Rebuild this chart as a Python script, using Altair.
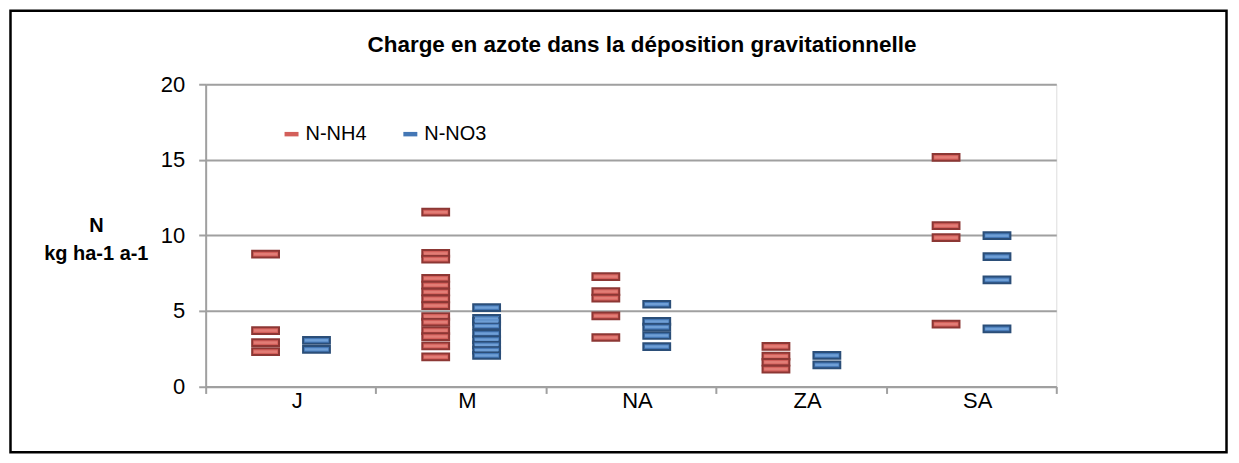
import altair as alt
import pandas as pd

sites = ["J", "M", "NA", "ZA", "SA"]
series = ["N-NH4", "N-NO3"]
title_text = ["Charge en azote dans la déposition gravitationnelle"]

nh4_J = [8.75, 3.7, 2.9, 2.3]
nh4_M = [11.53, 8.8, 8.42, 7.15, 6.7, 6.25, 5.8, 5.35, 4.63, 4.25, 3.7, 3.3, 2.68, 1.95]
nh4_NA = [7.27, 6.28, 5.84, 4.67, 3.24]
nh4_ZA = [2.65, 2.0, 1.6, 1.15]
nh4_SA = [15.16, 10.64, 9.85, 4.12]

no3_J = [3.05, 2.45]
no3_M = [5.22, 4.5, 4.3, 4.0, 3.5, 3.1, 2.75, 2.4, 2.05]
no3_NA = [5.44, 4.3, 3.93, 3.37, 2.64]
no3_ZA = [2.05, 1.43]
no3_SA = [9.98, 8.59, 7.05, 3.81]

nh4 = {"J": nh4_J, "M": nh4_M, "NA": nh4_NA, "ZA": nh4_ZA, "SA": nh4_SA}
no3 = {"J": no3_J, "M": no3_M, "NA": no3_NA, "ZA": no3_ZA, "SA": no3_SA}

rows = []
for s in sites:
    for v in nh4[s]:
        rows.append({"site": s, "series": "N-NH4", "value": v})
    for v in no3[s]:
        rows.append({"site": s, "series": "N-NO3", "value": v})
df = pd.DataFrame(rows)

FONT = "Liberation Sans Narrow, Arial Narrow, Liberation Sans, Arial"
GRID = "#A0A0A0"

BOX = "M-0.96,-0.24H0.96V0.24H-0.96Z"
STRIPE = "M-0.84,-0.09H0.84V0.09H-0.84Z"
LEG = "M-1,-0.32H1V0.32H-1Z"

x_enc = alt.X(
    "site:N",
    sort=sites,
    scale=alt.Scale(domain=sites, paddingInner=0, paddingOuter=0),
    axis=alt.Axis(
        title=None, labelAngle=0, tickBand="extent", grid=False,
        domainColor=GRID, domainWidth=2, tickColor=GRID, tickWidth=2, tickSize=7,
        labelFont=FONT, labelFontSize=22, labelColor="#000000", labelPadding=-3,
        labelOffset=6,
    ),
)
xo_enc = alt.XOffset("series:N", scale=alt.Scale(type="point", domain=series, range=[60, 111], padding=0))
y_enc = alt.Y(
    "value:Q",
    scale=alt.Scale(domain=[0, 20], nice=False),
    axis=alt.Axis(
        values=[0, 5, 10, 15, 20], grid=True, gridColor=GRID, gridWidth=2,
        domainColor=GRID, domainWidth=2, tickColor=GRID, tickWidth=2, tickSize=7,
        labelFont=FONT, labelFontSize=22, labelColor="#000000", labelPadding=14,
        title=["N", "kg ha-1 a-1"], titleAngle=0, titleAlign="center", titleBaseline="middle",
        titleX=-110, titleY=142, titleFont=FONT, titleFontSize=20, titleFontWeight="bold",
        titleColor="#000000", titleLineHeight=28,
    ),
)

base = alt.Chart(df).encode(x=x_enc, xOffset=xo_enc, y=y_enc)

boxes = base.mark_point(shape=BOX, size=784, filled=True, opacity=1, strokeWidth=2, strokeOpacity=1).encode(
    fill=alt.Fill(
        "series:N",
        scale=alt.Scale(domain=series, range=["#D35F5A", "#4477B5"]),
        legend=alt.Legend(
            title=None, orient="none", legendX=76, legendY=40, direction="horizontal",
            symbolType=LEG, symbolSize=196, symbolStrokeWidth=0, symbolOpacity=1,
            labelFont=FONT, labelFontSize=20, labelColor="#000000", labelOffset=4,
            columnPadding=33,
        ),
    ),
    stroke=alt.Stroke("series:N", scale=alt.Scale(domain=series, range=["#8C3734", "#2B4E78"]), legend=None),
)

stripes = base.mark_point(shape=STRIPE, size=784, filled=True, opacity=1, strokeWidth=0).encode(
    fill=alt.Fill("series:N", scale=alt.Scale(domain=series, range=["#E27D76", "#6F9FD6"]), legend=None),
)

frame = alt.Chart(pd.DataFrame({"a": [0]})).mark_rect(fill=None, stroke="#000000", strokeWidth=2.5).encode(
    x=alt.value(-195.5), x2=alt.value(1022.5), y=alt.value(-73.5), y2=alt.value(368.5)
)

title = alt.Chart(pd.DataFrame({"t": title_text})).mark_text(
    font=FONT, fontSize=22.5, fontWeight="bold", color="#000000", align="center", baseline="middle"
).encode(text="t:N", x=alt.value(437), y=alt.value(-39))

chart = (
    alt.layer(frame, title, boxes, stripes)
    .resolve_scale(fill="independent")
    .properties(
        width=852, height=302.7,
        autosize=alt.AutoSizeParams(type="none"),
        padding={"left": 198, "top": 76, "right": 175, "bottom": 70},
    )
    .configure_view(stroke=None)
    .configure(background="#FFFFFF")
)

chart.save("out.html", embed_options={"renderer": "svg", "actions": False})
